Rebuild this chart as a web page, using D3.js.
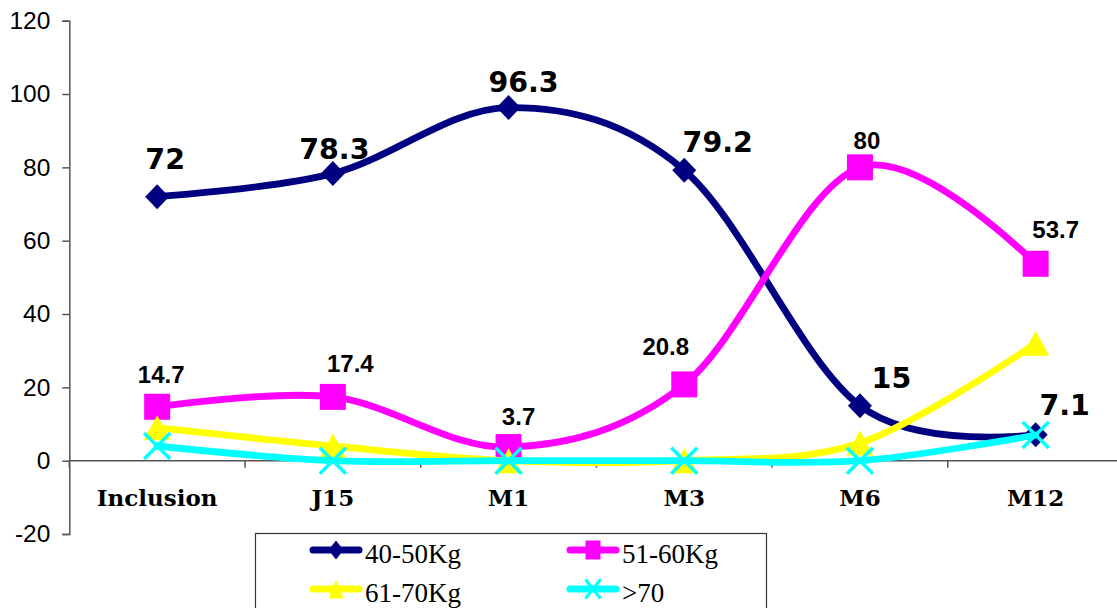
<!DOCTYPE html>
<html>
<head>
<meta charset="utf-8">
<script src="https://cdn.jsdelivr.net/npm/d3@7"></script>
<style>
  html, body { margin: 0; padding: 0; background: #fff; }
  svg { display: block; }
</style>
</head>
<body>
<svg id="chart" width="1117" height="608"></svg>
<script>
// Weight class share (%) across follow-up visits
const categories = ["Inclusion", "J15", "M1", "M3", "M6", "M12"];
const seriesNames = ["40-50Kg", "51-60Kg", "61-70Kg", ">70"];
const w40to50 = [72, 78.3, 96.3, 79.2, 15, 7.1];
const w51to60 = [14.7, 17.4, 3.7, 20.8, 80, 53.7];
const w61to70 = [9, 4, 0, 0, 4.8, 32];
const wOver70 = [4, 0, 0, 0, 0, 7];
const yTicks = [-20, 0, 20, 40, 60, 80, 100, 120];

// label offsets (px) relative to each point, per labelled series
const navyLabelOffsets = [[8, -28], [1.5, -15], [15, -16], [33.5, -18], [31.5, -18], [29, -20]];
const pinkLabelOffsets = [[4, -24], [17.5, -25], [10, -22], [-18.5, -29], [7, -18], [20, -25.5]];

const svg = d3.select("#chart");

const x = d3.scalePoint().domain(categories).range([69.3, 1123.5]).padding(0.5);
const y = d3.scaleLinear().domain([-20, 120]).range([534, 20.7]);
const step = x.step();

const axisColor = "#555";

// y axis
const yAxis = svg.append("g").attr("transform", "translate(69.3,0)")
  .call(d3.axisLeft(y).tickValues(yTicks).tickSize(7).tickPadding(12).tickFormat(d => String(d)));
yAxis.select(".domain").attr("stroke", axisColor).attr("stroke-width", 1.5);
yAxis.selectAll(".tick line").attr("stroke", axisColor).attr("stroke-width", 1.5);
yAxis.selectAll(".tick text")
  .attr("font-family", "'Liberation Sans', Arial, sans-serif")
  .attr("font-size", 24.5).attr("fill", "#000");

// x axis along zero, ticks at category boundaries
const y0 = y(0);
svg.append("line").attr("x1", 69.3).attr("x2", 1117).attr("y1", y0).attr("y2", y0)
  .attr("stroke", axisColor).attr("stroke-width", 1.5);
const boundaries = d3.range(categories.length + 1).map(i => 69.3 + i * step);
svg.append("g").selectAll("line").data(boundaries).join("line")
  .attr("x1", d => d).attr("x2", d => d)
  .attr("y1", y0).attr("y2", y0 + 7)
  .attr("stroke", axisColor).attr("stroke-width", 1.5);

svg.append("g").selectAll("text").data(categories).join("text")
  .attr("x", d => x(d)).attr("y", 506)
  .attr("text-anchor", "middle")
  .attr("font-family", "'DejaVu Serif', serif").attr("font-weight", "bold")
  .attr("font-size", 23).attr("fill", "#000")
  .text(d => d);

// marker shapes
function markerPath(kind, w, h) {
  const a = w / 2, b = h / 2;
  if (kind === "diamond") return `M0,${-b}L${a},0L0,${b}L${-a},0Z`;
  if (kind === "square") return `M${-a},${-b}H${a}V${b}H${-a}Z`;
  if (kind === "triangle") return `M0,${-b}L${a},${b}L${-a},${b}Z`;
  return `M${-a},${-b}L${a},${b}M${a},${-b}L${-a},${b}`;
}

const series = [
  { name: seriesNames[0], values: w40to50, color: "#000080", marker: "diamond", mw: 24, mh: 25 },
  { name: seriesNames[1], values: w51to60, color: "#FF00FF", marker: "square", mw: 26, mh: 26 },
  { name: seriesNames[2], values: w61to70, color: "#FFFF00", marker: "triangle", mw: 27, mh: 25 },
  { name: seriesNames[3], values: wOver70, color: "#00FFFF", marker: "x", mw: 26, mh: 26 }
];

const line = d3.line()
  .x((d, i) => x(categories[i]))
  .y(d => y(d))
  .curve(d3.curveCardinal.tension(0));

series.forEach(s => {
  const g = svg.append("g");
  g.append("path").attr("d", line(s.values))
    .attr("fill", "none").attr("stroke", s.color).attr("stroke-width", 6.8)
    .attr("stroke-linejoin", "round").attr("stroke-linecap", "round");
  g.selectAll("path.mk").data(s.values).join("path").attr("class", "mk")
    .attr("transform", (d, i) => `translate(${x(categories[i])},${y(d)})`)
    .attr("d", markerPath(s.marker, s.mw, s.mh))
    .attr("fill", s.marker === "x" ? "none" : s.color)
    .attr("stroke", s.color)
    .attr("stroke-width", s.marker === "x" ? 3.5 : 0);
});

// value labels
svg.append("g").selectAll("text").data(w40to50).join("text")
  .attr("x", (d, i) => x(categories[i]) + navyLabelOffsets[i][0])
  .attr("y", (d, i) => y(d) + navyLabelOffsets[i][1])
  .attr("text-anchor", "middle")
  .attr("font-family", "'DejaVu Sans', Verdana, sans-serif").attr("font-weight", "bold")
  .attr("font-size", 28.5).attr("fill", "#000")
  .text(d => d);

svg.append("g").selectAll("text").data(w51to60).join("text")
  .attr("x", (d, i) => x(categories[i]) + pinkLabelOffsets[i][0])
  .attr("y", (d, i) => y(d) + pinkLabelOffsets[i][1])
  .attr("text-anchor", "middle")
  .attr("font-family", "'Liberation Sans', Arial, sans-serif").attr("font-weight", "bold")
  .attr("font-size", 24).attr("fill", "#000")
  .text(d => d);

// legend
const legend = svg.append("g");
legend.append("rect").attr("x", 255.5).attr("y", 533.5).attr("width", 511).attr("height", 90)
  .attr("fill", "#fff").attr("stroke", "#333").attr("stroke-width", 1.2);
const legendPos = [[310, 550], [567, 550], [310, 589], [567, 589]];
series.forEach((s, i) => {
  const [lx, ly] = legendPos[i];
  const g = legend.append("g").attr("transform", `translate(${lx},${ly})`);
  g.append("line").attr("x1", 3).attr("x2", 49).attr("y1", 0).attr("y2", 0)
    .attr("stroke", s.color).attr("stroke-width", 7).attr("stroke-linecap", "round");
  g.append("path").attr("transform", "translate(26,0)")
    .attr("d", markerPath(s.marker, 15, 19))
    .attr("fill", s.marker === "x" ? "none" : s.color)
    .attr("stroke", s.color).attr("stroke-width", s.marker === "x" ? 3 : 0);
  g.append("text").attr("x", 55).attr("y", 13)
    .attr("font-family", "'Liberation Serif', 'Times New Roman', serif")
    .attr("font-size", 27).attr("fill", "#000")
    .text(s.name);
});
</script>
</body>
</html>
